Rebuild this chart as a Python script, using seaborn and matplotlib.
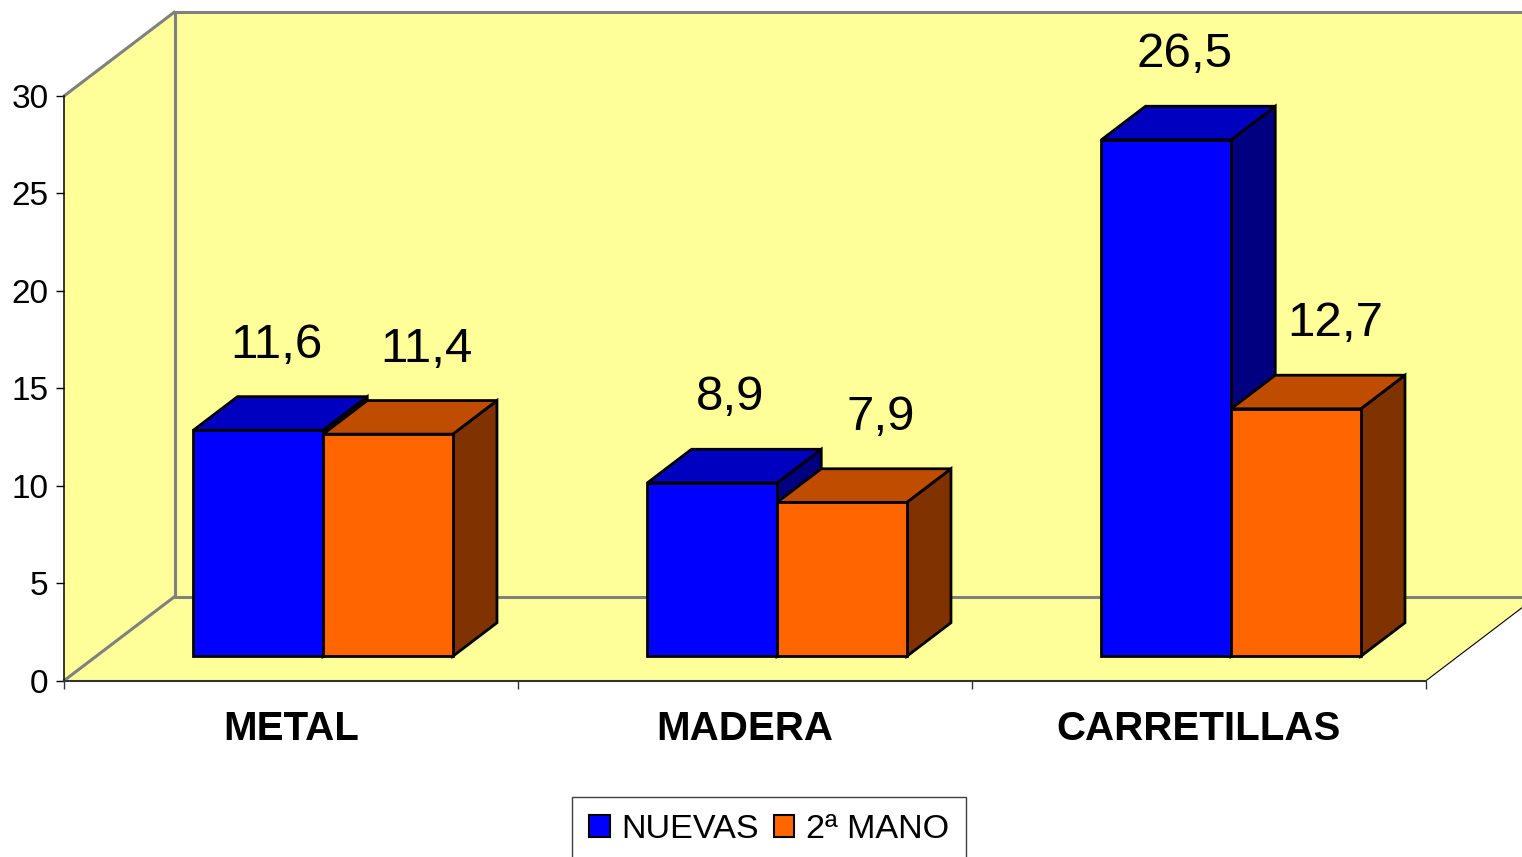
import pandas as pd
import seaborn as sns
import matplotlib.pyplot as plt
import matplotlib.patches as mpatches
from matplotlib.transforms import Affine2D, IdentityTransform

# data
categorias = ["METAL", "MADERA", "CARRETILLAS"]
series = ["NUEVAS", "2ª MANO"]
nuevas = [11.6, 8.9, 26.5]
segunda_mano = [11.4, 7.9, 12.7]

# colours (front / top / side of each series)
front_col = ["#0000FF", "#FF6600"]
top_col = ["#0000C0", "#C04C00"]
side_col = ["#000080", "#803300"]
wall_col = "#FFFF99"
line_gray = "#808080"

df = pd.DataFrame({
    "categoria": categorias * 2,
    "serie": [series[0]] * 3 + [series[1]] * 3,
    "valor": nuevas + segunda_mano,
})

sns.set_theme(style="white")
plt.rcParams["font.family"] = ["Liberation Sans", "DejaVu Sans"]
plt.rcParams["text.color"] = "black"

W, H = 1522, 857
fig = plt.figure(figsize=(W / 100, H / 100), dpi=100)
fig.patch.set_facecolor("white")
# front plane of the 3D box
ax = fig.add_axes([64 / W, 1 - 680.7 / H, (1426 - 64) / W, (680.7 - 96) / H])
ax.set_facecolor("none")

edge_w = 2.0
sns.barplot(data=df, x="categoria", y="valor", hue="serie", order=categorias,
            hue_order=series, palette=front_col, saturation=1, width=2 / 3.5,
            errorbar=None, edgecolor="black", linewidth=edge_w, legend=False, ax=ax)
ax.set_xlim(-0.5, 2.5)
ax.set_ylim(0, 30)
ax.set_autoscale_on(False)

# 3D geometry in pixels
depth = (110.5, 84.0)            # full depth of the box
front = (0.29 * depth[0], 0.29 * depth[1])   # bars sit a bit inside the box
bar_d = (0.40 * depth[0], 0.40 * depth[1])   # bar depth

# walls and floor
(fx0, fy0) = ax.transData.transform((-0.5, 0))
(fx1, fy1) = ax.transData.transform((2.5, 30))
dx, dy = depth
ident = IdentityTransform()
big = 200  # back wall runs off the right edge
left_wall = [(fx0, fy0), (fx0, fy1), (fx0 + dx, fy1 + dy), (fx0 + dx, fy0 + dy)]
back_wall = [(fx0 + dx, fy0 + dy), (fx0 + dx, fy1 + dy), (fx1 + dx + big, fy1 + dy), (fx1 + dx + big, fy0 + dy)]
floor = [(fx0, fy0), (fx1, fy0), (fx1 + dx, fy0 + dy), (fx0 + dx, fy0 + dy)]
for pts in (left_wall, back_wall, floor):
    ax.add_patch(mpatches.Polygon(pts, closed=True, facecolor=wall_col, edgecolor="none",
                                  transform=ident, clip_on=False, zorder=0.5))
gray_lines = [
    [(fx0, fy1), (fx0 + dx, fy1 + dy)],
    [(fx0 + dx, fy1 + dy), (fx1 + dx + big, fy1 + dy)],
    [(fx0 + dx, fy1 + dy), (fx0 + dx, fy0 + dy)],
    [(fx0 + dx, fy0 + dy), (fx1 + dx + big, fy0 + dy)],
    [(fx0, fy0), (fx0 + dx, fy0 + dy)],
]
for seg in gray_lines:
    ax.add_line(plt.Line2D([seg[0][0], seg[1][0]], [seg[0][1], seg[1][1]], color=line_gray,
                           lw=2.2, transform=ident, clip_on=False, zorder=0.6))
ax.add_line(plt.Line2D([fx1, fx1 + dx], [fy0, fy0 + dy], color="black", lw=0.8,
                       transform=ident, clip_on=False, zorder=0.6))

# extrude the seaborn bars into boxes
lab_dx = [18, 39]
for j, cont in enumerate(ax.containers):
    for bar in cont:
        x0, y0 = ax.transData.transform((bar.get_x(), 0)) + front
        x1, y1 = ax.transData.transform((bar.get_x() + bar.get_width(), bar.get_height())) + front
        bx, by = bar_d
        top = [(x0, y1), (x1, y1), (x1 + bx, y1 + by), (x0 + bx, y1 + by)]
        side = [(x1, y0), (x1, y1), (x1 + bx, y1 + by), (x1 + bx, y0 + by)]
        z = 2 + j
        ax.add_patch(mpatches.Polygon(side, closed=True, facecolor=side_col[j], edgecolor="black",
                                      lw=edge_w, joinstyle="miter", transform=ident,
                                      clip_on=False, zorder=z))
        ax.add_patch(mpatches.Polygon(top, closed=True, facecolor=top_col[j], edgecolor="black",
                                      lw=edge_w, joinstyle="miter", transform=ident,
                                      clip_on=False, zorder=z))
        bar.set_transform(ax.transData + Affine2D().translate(*front))
        bar.set_clip_on(False)
        bar.set_zorder(z + 0.5)
        txt = f"{bar.get_height():.1f}".replace(".", ",")
        ax.text((x0 + x1) / 2 + lab_dx[j], y1 + 85, txt, transform=ident, ha="center",
                va="center", fontsize=35.5, color="black", zorder=10)

# axes
ax.set_xlabel("")
ax.set_ylabel("")
ax.set_yticks(range(0, 31, 5))
ax.set_xticks(range(len(categorias)))
ax.set_xticklabels(categorias, fontsize=29, fontweight="bold", color="black")
ax.set_xticks([-0.5, 0.5, 1.5, 2.5], minor=True)
ax.tick_params(axis="y", left=True, length=6, width=1, color="black", labelsize=24,
               labelcolor="black", pad=5)
ax.tick_params(axis="x", which="major", bottom=True, length=0, pad=21)
ax.tick_params(axis="x", which="minor", bottom=True, length=6, width=1, color="#333333")
for s in ("top", "right"):
    ax.spines[s].set_visible(False)
ax.spines["left"].set_color("black")
ax.spines["left"].set_linewidth(1.1)
ax.spines["bottom"].set_color("#333333")
ax.spines["bottom"].set_linewidth(1.5)

# legend
handles = [mpatches.Patch(facecolor=c, edgecolor="black", linewidth=1.5) for c in front_col]
leg = fig.legend(handles, series, loc="upper left", bbox_to_anchor=(572 / W, 1 - 797 / H),
                 ncol=2, fontsize=24.6, frameon=True, fancybox=False, edgecolor="#404040",
                 framealpha=1, borderpad=0.5, handlelength=0.6, handleheight=0.6,
                 handletextpad=0.33, columnspacing=0.45, borderaxespad=0, labelcolor="black")
leg.get_frame().set_linewidth(1)

plt.savefig("out.png", dpi=100)
